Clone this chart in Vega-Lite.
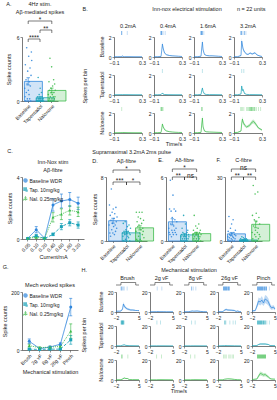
{
  "$schema": "https://vega.github.io/schema/vega-lite/v6.json",
  "padding": {"left": 2, "top": 2, "right": 1, "bottom": 1},
  "config": {
    "font": "Liberation Sans",
    "view": {"stroke": null},
    "axis": {"labelFontSize": 5, "titleFontSize": 5.5, "titleFontWeight": "normal", "tickSize": 2, "tickWidth": 0.5, "domainWidth": 0.6, "domainColor": "#222", "tickColor": "#222", "labelColor": "#222", "titleColor": "#222", "labelPadding": 1, "titlePadding": 2, "grid": false, "labelFlush": false, "labelOverlap": false},
    "header": {"labelFontSize": 5.5, "titleFontSize": 5.5, "titleFontWeight": "normal", "labelPadding": 1, "titlePadding": 1, "labelColor": "#222", "titleColor": "#222"},
    "title": {"fontSize": 5.5, "fontWeight": "normal", "color": "#222", "offset": 2},
    "legend": {"labelFontSize": 5, "symbolSize": 9, "rowPadding": 0, "padding": 0, "labelOffset": 1.5, "labelColor": "#222"}
  },
  "datasets": {
    "A": [
      {"g": "Baseline", "v": 1.2}, {"g": "Baseline", "v": 0.4}, {"g": "Baseline", "v": 3.4}, {"g": "Baseline", "v": 0}, {"g": "Baseline", "v": 2.0}, {"g": "Baseline", "v": 0.8}, {"g": "Baseline", "v": 5.0}, {"g": "Baseline", "v": 1.6}, {"g": "Baseline", "v": 0.2}, {"g": "Baseline", "v": 2.8}, {"g": "Baseline", "v": 0}, {"g": "Baseline", "v": 1.0}, {"g": "Baseline", "v": 4.2}, {"g": "Baseline", "v": 0.6}, {"g": "Baseline", "v": 1.8}, {"g": "Baseline", "v": 0.2}, {"g": "Baseline", "v": 3.1}, {"g": "Baseline", "v": 1.4}, {"g": "Baseline", "v": 0}, {"g": "Baseline", "v": 2.4}, {"g": "Baseline", "v": 4.6}, {"g": "Baseline", "v": 3.8},
      {"g": "Tapentadol", "v": 0}, {"g": "Tapentadol", "v": 0.2}, {"g": "Tapentadol", "v": 0}, {"g": "Tapentadol", "v": 0.4}, {"g": "Tapentadol", "v": 0}, {"g": "Tapentadol", "v": 2.2}, {"g": "Tapentadol", "v": 0.2}, {"g": "Tapentadol", "v": 0}, {"g": "Tapentadol", "v": 0.6}, {"g": "Tapentadol", "v": 0}, {"g": "Tapentadol", "v": 0.2}, {"g": "Tapentadol", "v": 1.2}, {"g": "Tapentadol", "v": 0}, {"g": "Tapentadol", "v": 0.2}, {"g": "Tapentadol", "v": 0}, {"g": "Tapentadol", "v": 0.8}, {"g": "Tapentadol", "v": 0}, {"g": "Tapentadol", "v": 0.4}, {"g": "Tapentadol", "v": 0.2}, {"g": "Tapentadol", "v": 0}, {"g": "Tapentadol", "v": 0.2}, {"g": "Tapentadol", "v": 0},
      {"g": "Naloxone", "v": 0.6}, {"g": "Naloxone", "v": 0}, {"g": "Naloxone", "v": 1.8}, {"g": "Naloxone", "v": 0.2}, {"g": "Naloxone", "v": 1.0}, {"g": "Naloxone", "v": 4.0}, {"g": "Naloxone", "v": 0.4}, {"g": "Naloxone", "v": 0}, {"g": "Naloxone", "v": 1.2}, {"g": "Naloxone", "v": 0.8}, {"g": "Naloxone", "v": 3.2}, {"g": "Naloxone", "v": 0.2}, {"g": "Naloxone", "v": 0.6}, {"g": "Naloxone", "v": 1.4}, {"g": "Naloxone", "v": 0}, {"g": "Naloxone", "v": 0.4}, {"g": "Naloxone", "v": 2.0}, {"g": "Naloxone", "v": 0.8}, {"g": "Naloxone", "v": 0.2}, {"g": "Naloxone", "v": 1.6}, {"g": "Naloxone", "v": 0.4}, {"g": "Naloxone", "v": 1.0}
    ],
    "D": [
      {"g": "Baseline", "v": 2.0}, {"g": "Baseline", "v": 4.5}, {"g": "Baseline", "v": 1.0}, {"g": "Baseline", "v": 3.2}, {"g": "Baseline", "v": 0.6}, {"g": "Baseline", "v": 2.6}, {"g": "Baseline", "v": 6.5}, {"g": "Baseline", "v": 1.4}, {"g": "Baseline", "v": 3.6}, {"g": "Baseline", "v": 2.2}, {"g": "Baseline", "v": 1.0}, {"g": "Baseline", "v": 4.0}, {"g": "Baseline", "v": 1.8}, {"g": "Baseline", "v": 2.8}, {"g": "Baseline", "v": 0.8}, {"g": "Baseline", "v": 3.4}, {"g": "Baseline", "v": 2.0}, {"g": "Baseline", "v": 1.2}, {"g": "Baseline", "v": 4.2}, {"g": "Baseline", "v": 2.4}, {"g": "Baseline", "v": 1.6}, {"g": "Baseline", "v": 3.0},
      {"g": "Tapentadol", "v": 1.0}, {"g": "Tapentadol", "v": 0.6}, {"g": "Tapentadol", "v": 2.2}, {"g": "Tapentadol", "v": 0}, {"g": "Tapentadol", "v": 1.2}, {"g": "Tapentadol", "v": 1.0}, {"g": "Tapentadol", "v": 0.8}, {"g": "Tapentadol", "v": 2.4}, {"g": "Tapentadol", "v": 0.2}, {"g": "Tapentadol", "v": 1.4}, {"g": "Tapentadol", "v": 1.2}, {"g": "Tapentadol", "v": 0}, {"g": "Tapentadol", "v": 1.0}, {"g": "Tapentadol", "v": 1.8}, {"g": "Tapentadol", "v": 0.6}, {"g": "Tapentadol", "v": 1.2}, {"g": "Tapentadol", "v": 0.4}, {"g": "Tapentadol", "v": 2.0}, {"g": "Tapentadol", "v": 1.0}, {"g": "Tapentadol", "v": 0}, {"g": "Tapentadol", "v": 0.8}, {"g": "Tapentadol", "v": 1.6},
      {"g": "Naloxone", "v": 1.2}, {"g": "Naloxone", "v": 3.6}, {"g": "Naloxone", "v": 0.2}, {"g": "Naloxone", "v": 2.4}, {"g": "Naloxone", "v": 0}, {"g": "Naloxone", "v": 1.8}, {"g": "Naloxone", "v": 3.0}, {"g": "Naloxone", "v": 0.6}, {"g": "Naloxone", "v": 2.0}, {"g": "Naloxone", "v": 3.6}, {"g": "Naloxone", "v": 1.0}, {"g": "Naloxone", "v": 0.2}, {"g": "Naloxone", "v": 2.8}, {"g": "Naloxone", "v": 1.4}, {"g": "Naloxone", "v": 0}, {"g": "Naloxone", "v": 2.2}, {"g": "Naloxone", "v": 3.6}, {"g": "Naloxone", "v": 0.8}, {"g": "Naloxone", "v": 1.6}, {"g": "Naloxone", "v": 1.2}, {"g": "Naloxone", "v": 2.6}, {"g": "Naloxone", "v": 0.4}
    ],
    "E": [
      {"g": "Baseline", "v": 1.2}, {"g": "Baseline", "v": 0.8}, {"g": "Baseline", "v": 3.0}, {"g": "Baseline", "v": 0.6}, {"g": "Baseline", "v": 5.7}, {"g": "Baseline", "v": 1.6}, {"g": "Baseline", "v": 2.8}, {"g": "Baseline", "v": 0.4}, {"g": "Baseline", "v": 1.0}, {"g": "Baseline", "v": 2.2}, {"g": "Baseline", "v": 0.8}, {"g": "Baseline", "v": 4.3}, {"g": "Baseline", "v": 0.6}, {"g": "Baseline", "v": 1.4}, {"g": "Baseline", "v": 3.0}, {"g": "Baseline", "v": 1.0}, {"g": "Baseline", "v": 2.0}, {"g": "Baseline", "v": 0.8}, {"g": "Baseline", "v": 2.8}, {"g": "Baseline", "v": 1.2}, {"g": "Baseline", "v": 0.6}, {"g": "Baseline", "v": 1.8},
      {"g": "Tapentadol", "v": 0.4}, {"g": "Tapentadol", "v": 0}, {"g": "Tapentadol", "v": 0.6}, {"g": "Tapentadol", "v": 1.2}, {"g": "Tapentadol", "v": 0.2}, {"g": "Tapentadol", "v": 0.8}, {"g": "Tapentadol", "v": 0}, {"g": "Tapentadol", "v": 2.4}, {"g": "Tapentadol", "v": 0.4}, {"g": "Tapentadol", "v": 0.6}, {"g": "Tapentadol", "v": 0.2}, {"g": "Tapentadol", "v": 0}, {"g": "Tapentadol", "v": 1.6}, {"g": "Tapentadol", "v": 0.4}, {"g": "Tapentadol", "v": 0.6}, {"g": "Tapentadol", "v": 0.2}, {"g": "Tapentadol", "v": 0.8}, {"g": "Tapentadol", "v": 0}, {"g": "Tapentadol", "v": 1.0}, {"g": "Tapentadol", "v": 0.2}, {"g": "Tapentadol", "v": 0.6}, {"g": "Tapentadol", "v": 0.4},
      {"g": "Naloxone", "v": 0.6}, {"g": "Naloxone", "v": 1.0}, {"g": "Naloxone", "v": 0.2}, {"g": "Naloxone", "v": 2.4}, {"g": "Naloxone", "v": 0.4}, {"g": "Naloxone", "v": 0.8}, {"g": "Naloxone", "v": 0}, {"g": "Naloxone", "v": 1.4}, {"g": "Naloxone", "v": 0.6}, {"g": "Naloxone", "v": 0.2}, {"g": "Naloxone", "v": 0.8}, {"g": "Naloxone", "v": 1.2}, {"g": "Naloxone", "v": 0}, {"g": "Naloxone", "v": 0.4}, {"g": "Naloxone", "v": 0.6}, {"g": "Naloxone", "v": 1.6}, {"g": "Naloxone", "v": 0.2}, {"g": "Naloxone", "v": 0.8}, {"g": "Naloxone", "v": 0.4}, {"g": "Naloxone", "v": 1.0}, {"g": "Naloxone", "v": 0}, {"g": "Naloxone", "v": 0.6}
    ],
    "F": [
      {"g": "Baseline", "v": 2.0}, {"g": "Baseline", "v": 4.5}, {"g": "Baseline", "v": 0.5}, {"g": "Baseline", "v": 11.5}, {"g": "Baseline", "v": 1.5}, {"g": "Baseline", "v": 3.0}, {"g": "Baseline", "v": 0}, {"g": "Baseline", "v": 6.0}, {"g": "Baseline", "v": 2.5}, {"g": "Baseline", "v": 1.0}, {"g": "Baseline", "v": 8.0}, {"g": "Baseline", "v": 3.5}, {"g": "Baseline", "v": 0.5}, {"g": "Baseline", "v": 2.0}, {"g": "Baseline", "v": 10.0}, {"g": "Baseline", "v": 1.5}, {"g": "Baseline", "v": 4.0}, {"g": "Baseline", "v": 0}, {"g": "Baseline", "v": 3.0}, {"g": "Baseline", "v": 1.0}, {"g": "Baseline", "v": 5.0}, {"g": "Baseline", "v": 2.5},
      {"g": "Tapentadol", "v": 0.5}, {"g": "Tapentadol", "v": 0}, {"g": "Tapentadol", "v": 1.0}, {"g": "Tapentadol", "v": 0}, {"g": "Tapentadol", "v": 0.5}, {"g": "Tapentadol", "v": 2.0}, {"g": "Tapentadol", "v": 0}, {"g": "Tapentadol", "v": 0.5}, {"g": "Tapentadol", "v": 0}, {"g": "Tapentadol", "v": 1.5}, {"g": "Tapentadol", "v": 0.5}, {"g": "Tapentadol", "v": 0}, {"g": "Tapentadol", "v": 1.0}, {"g": "Tapentadol", "v": 0.5}, {"g": "Tapentadol", "v": 0}, {"g": "Tapentadol", "v": 0.5}, {"g": "Tapentadol", "v": 0}, {"g": "Tapentadol", "v": 1.0}, {"g": "Tapentadol", "v": 0.5}, {"g": "Tapentadol", "v": 0}, {"g": "Tapentadol", "v": 0.5}, {"g": "Tapentadol", "v": 0},
      {"g": "Naloxone", "v": 4}, {"g": "Naloxone", "v": 12}, {"g": "Naloxone", "v": 1}, {"g": "Naloxone", "v": 26}, {"g": "Naloxone", "v": 7}, {"g": "Naloxone", "v": 0}, {"g": "Naloxone", "v": 10}, {"g": "Naloxone", "v": 3}, {"g": "Naloxone", "v": 22}, {"g": "Naloxone", "v": 5}, {"g": "Naloxone", "v": 2}, {"g": "Naloxone", "v": 13}, {"g": "Naloxone", "v": 9}, {"g": "Naloxone", "v": 0}, {"g": "Naloxone", "v": 4}, {"g": "Naloxone", "v": 23}, {"g": "Naloxone", "v": 6}, {"g": "Naloxone", "v": 1}, {"g": "Naloxone", "v": 11}, {"g": "Naloxone", "v": 3}, {"g": "Naloxone", "v": 8}, {"g": "Naloxone", "v": 2}
    ],
    "C": [
      {"g": "Baseline WDR", "x": "0.05", "m": 0.05, "s": 0.03}, {"g": "Baseline WDR", "x": "0.10", "m": 0.6, "s": 0.2}, {"g": "Baseline WDR", "x": "0.20", "m": 0.05, "s": 0.03}, {"g": "Baseline WDR", "x": "0.40", "m": 2.2, "s": 0.4}, {"g": "Baseline WDR", "x": "0.80", "m": 2.45, "s": 0.45}, {"g": "Baseline WDR", "x": "1.60", "m": 2.55, "s": 0.45}, {"g": "Baseline WDR", "x": "3.20", "m": 2.3, "s": 0.4},
      {"g": "Tap. 10mg/kg", "x": "0.05", "m": 0.03, "s": 0.02}, {"g": "Tap. 10mg/kg", "x": "0.10", "m": 0.2, "s": 0.08}, {"g": "Tap. 10mg/kg", "x": "0.20", "m": 0.03, "s": 0.02}, {"g": "Tap. 10mg/kg", "x": "0.40", "m": 0.3, "s": 0.08}, {"g": "Tap. 10mg/kg", "x": "0.80", "m": 0.8, "s": 0.2}, {"g": "Tap. 10mg/kg", "x": "1.60", "m": 1.05, "s": 0.2}, {"g": "Tap. 10mg/kg", "x": "3.20", "m": 0.9, "s": 0.2},
      {"g": "Nal. 0.25mg/kg", "x": "0.05", "m": 0.05, "s": 0.03}, {"g": "Nal. 0.25mg/kg", "x": "0.10", "m": 0.1, "s": 0.05}, {"g": "Nal. 0.25mg/kg", "x": "0.20", "m": 0.05, "s": 0.03}, {"g": "Nal. 0.25mg/kg", "x": "0.40", "m": 1.4, "s": 0.3}, {"g": "Nal. 0.25mg/kg", "x": "0.80", "m": 1.6, "s": 0.35}, {"g": "Nal. 0.25mg/kg", "x": "1.60", "m": 1.85, "s": 0.3}, {"g": "Nal. 0.25mg/kg", "x": "3.20", "m": 1.75, "s": 0.3}
    ],
    "G": [
      {"g": "Baseline WDR", "x": "Brush", "m": 30, "s": 8}, {"g": "Baseline WDR", "x": "2g vF", "m": 5, "s": 2}, {"g": "Baseline WDR", "x": "8g vF", "m": 10, "s": 3}, {"g": "Baseline WDR", "x": "26g vF", "m": 20, "s": 5}, {"g": "Baseline WDR", "x": "Pinch", "m": 148, "s": 30},
      {"g": "Tap. 10mg/kg", "x": "Brush", "m": 3, "s": 1.5}, {"g": "Tap. 10mg/kg", "x": "2g vF", "m": 2, "s": 1}, {"g": "Tap. 10mg/kg", "x": "8g vF", "m": 3, "s": 1}, {"g": "Tap. 10mg/kg", "x": "26g vF", "m": 3, "s": 1.5}, {"g": "Tap. 10mg/kg", "x": "Pinch", "m": 35, "s": 15},
      {"g": "Nal. 0.25mg/kg", "x": "Brush", "m": 15, "s": 5}, {"g": "Nal. 0.25mg/kg", "x": "2g vF", "m": 8, "s": 3}, {"g": "Nal. 0.25mg/kg", "x": "8g vF", "m": 10, "s": 3}, {"g": "Nal. 0.25mg/kg", "x": "26g vF", "m": 12, "s": 4}, {"g": "Nal. 0.25mg/kg", "x": "Pinch", "m": 65, "s": 25}
    ],
    "Bt": [
      {"r": "Baseline", "c": "0.2mA", "k": "p", "t": -0.1, "m": 0.02, "s": 0.02}, {"r": "Baseline", "c": "0.2mA", "k": "p", "t": -0.05, "m": 0.03, "s": 0.02}, {"r": "Baseline", "c": "0.2mA", "k": "p", "t": 0, "m": 0.03, "s": 0.02}, {"r": "Baseline", "c": "0.2mA", "k": "p", "t": 0.01, "m": 0.06, "s": 0.03}, {"r": "Baseline", "c": "0.2mA", "k": "p", "t": 0.02, "m": 0.1, "s": 0.04}, {"r": "Baseline", "c": "0.2mA", "k": "p", "t": 0.03, "m": 0.05, "s": 0.03}, {"r": "Baseline", "c": "0.2mA", "k": "p", "t": 0.05, "m": 0.03, "s": 0.02}, {"r": "Baseline", "c": "0.2mA", "k": "p", "t": 0.1, "m": 0.03, "s": 0.02}, {"r": "Baseline", "c": "0.2mA", "k": "p", "t": 0.2, "m": 0.02, "s": 0.02}, {"r": "Baseline", "c": "0.2mA", "k": "p", "t": 0.3, "m": 0.02, "s": 0.02},
      {"r": "Baseline", "c": "0.4mA", "k": "p", "t": -0.1, "m": 0.02, "s": 0.02}, {"r": "Baseline", "c": "0.4mA", "k": "p", "t": -0.05, "m": 0.03, "s": 0.02}, {"r": "Baseline", "c": "0.4mA", "k": "p", "t": 0, "m": 0.05, "s": 0.03}, {"r": "Baseline", "c": "0.4mA", "k": "p", "t": 0.01, "m": 0.6, "s": 0.12}, {"r": "Baseline", "c": "0.4mA", "k": "p", "t": 0.02, "m": 1.3, "s": 0.22}, {"r": "Baseline", "c": "0.4mA", "k": "p", "t": 0.03, "m": 0.9, "s": 0.16}, {"r": "Baseline", "c": "0.4mA", "k": "p", "t": 0.05, "m": 0.4, "s": 0.08}, {"r": "Baseline", "c": "0.4mA", "k": "p", "t": 0.08, "m": 0.22, "s": 0.05}, {"r": "Baseline", "c": "0.4mA", "k": "p", "t": 0.12, "m": 0.15, "s": 0.04}, {"r": "Baseline", "c": "0.4mA", "k": "p", "t": 0.16, "m": 0.12, "s": 0.04}, {"r": "Baseline", "c": "0.4mA", "k": "p", "t": 0.2, "m": 0.1, "s": 0.03}, {"r": "Baseline", "c": "0.4mA", "k": "p", "t": 0.25, "m": 0.08, "s": 0.03}, {"r": "Baseline", "c": "0.4mA", "k": "p", "t": 0.3, "m": 0.05, "s": 0.02},
      {"r": "Baseline", "c": "1.6mA", "k": "p", "t": -0.1, "m": 0.02, "s": 0.02}, {"r": "Baseline", "c": "1.6mA", "k": "p", "t": -0.05, "m": 0.03, "s": 0.02}, {"r": "Baseline", "c": "1.6mA", "k": "p", "t": 0, "m": 0.08, "s": 0.03}, {"r": "Baseline", "c": "1.6mA", "k": "p", "t": 0.01, "m": 0.8, "s": 0.15}, {"r": "Baseline", "c": "1.6mA", "k": "p", "t": 0.02, "m": 1.5, "s": 0.25}, {"r": "Baseline", "c": "1.6mA", "k": "p", "t": 0.03, "m": 0.7, "s": 0.13}, {"r": "Baseline", "c": "1.6mA", "k": "p", "t": 0.05, "m": 0.25, "s": 0.06}, {"r": "Baseline", "c": "1.6mA", "k": "p", "t": 0.08, "m": 0.15, "s": 0.04}, {"r": "Baseline", "c": "1.6mA", "k": "p", "t": 0.12, "m": 0.12, "s": 0.04}, {"r": "Baseline", "c": "1.6mA", "k": "p", "t": 0.16, "m": 0.12, "s": 0.04}, {"r": "Baseline", "c": "1.6mA", "k": "p", "t": 0.2, "m": 0.1, "s": 0.03}, {"r": "Baseline", "c": "1.6mA", "k": "p", "t": 0.25, "m": 0.08, "s": 0.03}, {"r": "Baseline", "c": "1.6mA", "k": "p", "t": 0.3, "m": 0.05, "s": 0.02},
      {"r": "Baseline", "c": "3.2mA", "k": "p", "t": -0.1, "m": 0.03, "s": 0.02}, {"r": "Baseline", "c": "3.2mA", "k": "p", "t": -0.05, "m": 0.03, "s": 0.02}, {"r": "Baseline", "c": "3.2mA", "k": "p", "t": 0, "m": 0.15, "s": 0.05}, {"r": "Baseline", "c": "3.2mA", "k": "p", "t": 0.01, "m": 1.6, "s": 0.3}, {"r": "Baseline", "c": "3.2mA", "k": "p", "t": 0.02, "m": 1.2, "s": 0.22}, {"r": "Baseline", "c": "3.2mA", "k": "p", "t": 0.03, "m": 0.8, "s": 0.15}, {"r": "Baseline", "c": "3.2mA", "k": "p", "t": 0.05, "m": 0.5, "s": 0.1}, {"r": "Baseline", "c": "3.2mA", "k": "p", "t": 0.08, "m": 0.3, "s": 0.07}, {"r": "Baseline", "c": "3.2mA", "k": "p", "t": 0.1, "m": 0.25, "s": 0.06}, {"r": "Baseline", "c": "3.2mA", "k": "p", "t": 0.13, "m": 0.4, "s": 0.08}, {"r": "Baseline", "c": "3.2mA", "k": "p", "t": 0.16, "m": 0.3, "s": 0.07}, {"r": "Baseline", "c": "3.2mA", "k": "p", "t": 0.2, "m": 0.42, "s": 0.08}, {"r": "Baseline", "c": "3.2mA", "k": "p", "t": 0.23, "m": 0.2, "s": 0.05}, {"r": "Baseline", "c": "3.2mA", "k": "p", "t": 0.27, "m": 0.1, "s": 0.04}, {"r": "Baseline", "c": "3.2mA", "k": "p", "t": 0.3, "m": 0.05, "s": 0.03},
      {"r": "Tapentadol", "c": "0.2mA", "k": "p", "t": -0.1, "m": 0.02, "s": 0.02}, {"r": "Tapentadol", "c": "0.2mA", "k": "p", "t": 0, "m": 0.03, "s": 0.02}, {"r": "Tapentadol", "c": "0.2mA", "k": "p", "t": 0.02, "m": 0.04, "s": 0.02}, {"r": "Tapentadol", "c": "0.2mA", "k": "p", "t": 0.1, "m": 0.03, "s": 0.02}, {"r": "Tapentadol", "c": "0.2mA", "k": "p", "t": 0.2, "m": 0.02, "s": 0.02}, {"r": "Tapentadol", "c": "0.2mA", "k": "p", "t": 0.3, "m": 0.02, "s": 0.02},
      {"r": "Tapentadol", "c": "0.4mA", "k": "p", "t": -0.1, "m": 0.02, "s": 0.02}, {"r": "Tapentadol", "c": "0.4mA", "k": "p", "t": -0.05, "m": 0.02, "s": 0.02}, {"r": "Tapentadol", "c": "0.4mA", "k": "p", "t": 0, "m": 0.04, "s": 0.02}, {"r": "Tapentadol", "c": "0.4mA", "k": "p", "t": 0.01, "m": 0.12, "s": 0.04}, {"r": "Tapentadol", "c": "0.4mA", "k": "p", "t": 0.02, "m": 0.2, "s": 0.05}, {"r": "Tapentadol", "c": "0.4mA", "k": "p", "t": 0.03, "m": 0.1, "s": 0.04}, {"r": "Tapentadol", "c": "0.4mA", "k": "p", "t": 0.05, "m": 0.05, "s": 0.02}, {"r": "Tapentadol", "c": "0.4mA", "k": "p", "t": 0.1, "m": 0.03, "s": 0.02}, {"r": "Tapentadol", "c": "0.4mA", "k": "p", "t": 0.2, "m": 0.02, "s": 0.02}, {"r": "Tapentadol", "c": "0.4mA", "k": "p", "t": 0.3, "m": 0.02, "s": 0.02},
      {"r": "Tapentadol", "c": "1.6mA", "k": "p", "t": -0.1, "m": 0.02, "s": 0.02}, {"r": "Tapentadol", "c": "1.6mA", "k": "p", "t": -0.05, "m": 0.02, "s": 0.02}, {"r": "Tapentadol", "c": "1.6mA", "k": "p", "t": 0, "m": 0.05, "s": 0.02}, {"r": "Tapentadol", "c": "1.6mA", "k": "p", "t": 0.01, "m": 0.4, "s": 0.08}, {"r": "Tapentadol", "c": "1.6mA", "k": "p", "t": 0.02, "m": 0.7, "s": 0.12}, {"r": "Tapentadol", "c": "1.6mA", "k": "p", "t": 0.03, "m": 0.35, "s": 0.07}, {"r": "Tapentadol", "c": "1.6mA", "k": "p", "t": 0.05, "m": 0.1, "s": 0.03}, {"r": "Tapentadol", "c": "1.6mA", "k": "p", "t": 0.08, "m": 0.05, "s": 0.02}, {"r": "Tapentadol", "c": "1.6mA", "k": "p", "t": 0.12, "m": 0.04, "s": 0.02}, {"r": "Tapentadol", "c": "1.6mA", "k": "p", "t": 0.2, "m": 0.03, "s": 0.02}, {"r": "Tapentadol", "c": "1.6mA", "k": "p", "t": 0.3, "m": 0.02, "s": 0.02},
      {"r": "Tapentadol", "c": "3.2mA", "k": "p", "t": -0.1, "m": 0.02, "s": 0.02}, {"r": "Tapentadol", "c": "3.2mA", "k": "p", "t": -0.05, "m": 0.02, "s": 0.02}, {"r": "Tapentadol", "c": "3.2mA", "k": "p", "t": 0, "m": 0.1, "s": 0.03}, {"r": "Tapentadol", "c": "3.2mA", "k": "p", "t": 0.01, "m": 0.9, "s": 0.15}, {"r": "Tapentadol", "c": "3.2mA", "k": "p", "t": 0.02, "m": 0.45, "s": 0.09}, {"r": "Tapentadol", "c": "3.2mA", "k": "p", "t": 0.03, "m": 0.55, "s": 0.1}, {"r": "Tapentadol", "c": "3.2mA", "k": "p", "t": 0.05, "m": 0.15, "s": 0.04}, {"r": "Tapentadol", "c": "3.2mA", "k": "p", "t": 0.08, "m": 0.06, "s": 0.02}, {"r": "Tapentadol", "c": "3.2mA", "k": "p", "t": 0.12, "m": 0.04, "s": 0.02}, {"r": "Tapentadol", "c": "3.2mA", "k": "p", "t": 0.2, "m": 0.03, "s": 0.02}, {"r": "Tapentadol", "c": "3.2mA", "k": "p", "t": 0.3, "m": 0.02, "s": 0.02},
      {"r": "Naloxone", "c": "0.2mA", "k": "p", "t": -0.1, "m": 0.02, "s": 0.02}, {"r": "Naloxone", "c": "0.2mA", "k": "p", "t": 0, "m": 0.03, "s": 0.02}, {"r": "Naloxone", "c": "0.2mA", "k": "p", "t": 0.02, "m": 0.05, "s": 0.02}, {"r": "Naloxone", "c": "0.2mA", "k": "p", "t": 0.1, "m": 0.03, "s": 0.02}, {"r": "Naloxone", "c": "0.2mA", "k": "p", "t": 0.2, "m": 0.02, "s": 0.02}, {"r": "Naloxone", "c": "0.2mA", "k": "p", "t": 0.3, "m": 0.02, "s": 0.02},
      {"r": "Naloxone", "c": "0.4mA", "k": "p", "t": -0.1, "m": 0.02, "s": 0.02}, {"r": "Naloxone", "c": "0.4mA", "k": "p", "t": -0.05, "m": 0.03, "s": 0.02}, {"r": "Naloxone", "c": "0.4mA", "k": "p", "t": 0, "m": 0.05, "s": 0.03}, {"r": "Naloxone", "c": "0.4mA", "k": "p", "t": 0.01, "m": 0.4, "s": 0.08}, {"r": "Naloxone", "c": "0.4mA", "k": "p", "t": 0.02, "m": 0.9, "s": 0.16}, {"r": "Naloxone", "c": "0.4mA", "k": "p", "t": 0.03, "m": 0.65, "s": 0.12}, {"r": "Naloxone", "c": "0.4mA", "k": "p", "t": 0.05, "m": 0.35, "s": 0.07}, {"r": "Naloxone", "c": "0.4mA", "k": "p", "t": 0.08, "m": 0.2, "s": 0.05}, {"r": "Naloxone", "c": "0.4mA", "k": "p", "t": 0.12, "m": 0.13, "s": 0.04}, {"r": "Naloxone", "c": "0.4mA", "k": "p", "t": 0.16, "m": 0.1, "s": 0.03}, {"r": "Naloxone", "c": "0.4mA", "k": "p", "t": 0.2, "m": 0.08, "s": 0.03}, {"r": "Naloxone", "c": "0.4mA", "k": "p", "t": 0.25, "m": 0.06, "s": 0.02}, {"r": "Naloxone", "c": "0.4mA", "k": "p", "t": 0.3, "m": 0.05, "s": 0.02},
      {"r": "Naloxone", "c": "1.6mA", "k": "p", "t": -0.1, "m": 0.02, "s": 0.02}, {"r": "Naloxone", "c": "1.6mA", "k": "p", "t": -0.05, "m": 0.03, "s": 0.02}, {"r": "Naloxone", "c": "1.6mA", "k": "p", "t": 0, "m": 0.06, "s": 0.03}, {"r": "Naloxone", "c": "1.6mA", "k": "p", "t": 0.01, "m": 0.8, "s": 0.15}, {"r": "Naloxone", "c": "1.6mA", "k": "p", "t": 0.02, "m": 1.5, "s": 0.25}, {"r": "Naloxone", "c": "1.6mA", "k": "p", "t": 0.03, "m": 0.6, "s": 0.12}, {"r": "Naloxone", "c": "1.6mA", "k": "p", "t": 0.05, "m": 0.2, "s": 0.05}, {"r": "Naloxone", "c": "1.6mA", "k": "p", "t": 0.08, "m": 0.12, "s": 0.04}, {"r": "Naloxone", "c": "1.6mA", "k": "p", "t": 0.12, "m": 0.1, "s": 0.03}, {"r": "Naloxone", "c": "1.6mA", "k": "p", "t": 0.2, "m": 0.08, "s": 0.03}, {"r": "Naloxone", "c": "1.6mA", "k": "p", "t": 0.3, "m": 0.05, "s": 0.02},
      {"r": "Naloxone", "c": "3.2mA", "k": "p", "t": -0.1, "m": 0.05, "s": 0.03}, {"r": "Naloxone", "c": "3.2mA", "k": "p", "t": -0.05, "m": 0.06, "s": 0.03}, {"r": "Naloxone", "c": "3.2mA", "k": "p", "t": 0, "m": 0.2, "s": 0.06}, {"r": "Naloxone", "c": "3.2mA", "k": "p", "t": 0.01, "m": 0.9, "s": 0.17}, {"r": "Naloxone", "c": "3.2mA", "k": "p", "t": 0.02, "m": 1.4, "s": 0.25}, {"r": "Naloxone", "c": "3.2mA", "k": "p", "t": 0.03, "m": 1.1, "s": 0.2}, {"r": "Naloxone", "c": "3.2mA", "k": "p", "t": 0.05, "m": 0.8, "s": 0.15}, {"r": "Naloxone", "c": "3.2mA", "k": "p", "t": 0.08, "m": 0.6, "s": 0.12}, {"r": "Naloxone", "c": "3.2mA", "k": "p", "t": 0.12, "m": 0.75, "s": 0.14}, {"r": "Naloxone", "c": "3.2mA", "k": "p", "t": 0.16, "m": 1.1, "s": 0.2}, {"r": "Naloxone", "c": "3.2mA", "k": "p", "t": 0.18, "m": 1.15, "s": 0.2}, {"r": "Naloxone", "c": "3.2mA", "k": "p", "t": 0.2, "m": 1.0, "s": 0.18}, {"r": "Naloxone", "c": "3.2mA", "k": "p", "t": 0.25, "m": 0.5, "s": 0.1}, {"r": "Naloxone", "c": "3.2mA", "k": "p", "t": 0.3, "m": 0.3, "s": 0.07},
      {"r": "Baseline", "c": "0.2mA", "k": "s", "t": 0.01, "n": 3}, {"r": "Baseline", "c": "0.2mA", "k": "s", "t": 0.09, "n": 1},
      {"r": "Baseline", "c": "0.4mA", "k": "s", "t": 0, "n": 3}, {"r": "Baseline", "c": "0.4mA", "k": "s", "t": 0.01, "n": 3}, {"r": "Baseline", "c": "0.4mA", "k": "s", "t": 0.03, "n": 1}, {"r": "Baseline", "c": "0.4mA", "k": "s", "t": 0.06, "n": 1},
      {"r": "Baseline", "c": "1.6mA", "k": "s", "t": 0, "n": 3}, {"r": "Baseline", "c": "1.6mA", "k": "s", "t": 0.01, "n": 3}, {"r": "Baseline", "c": "1.6mA", "k": "s", "t": 0.02, "n": 2}, {"r": "Baseline", "c": "1.6mA", "k": "s", "t": 0.04, "n": 1},
      {"r": "Baseline", "c": "3.2mA", "k": "s", "t": 0, "n": 3}, {"r": "Baseline", "c": "3.2mA", "k": "s", "t": 0.01, "n": 2}, {"r": "Baseline", "c": "3.2mA", "k": "s", "t": 0.03, "n": 1}, {"r": "Baseline", "c": "3.2mA", "k": "s", "t": 0.05, "n": 2}, {"r": "Baseline", "c": "3.2mA", "k": "s", "t": 0.07, "n": 1},
      {"r": "Tapentadol", "c": "0.4mA", "k": "s", "t": 0.02, "n": 1}, {"r": "Tapentadol", "c": "1.6mA", "k": "s", "t": 0.02, "n": 1}, {"r": "Tapentadol", "c": "3.2mA", "k": "s", "t": 0.01, "n": 1}, {"r": "Tapentadol", "c": "3.2mA", "k": "s", "t": 0.04, "n": 1},
      {"r": "Naloxone", "c": "0.2mA", "k": "s", "t": 0.01, "n": 1},
      {"r": "Naloxone", "c": "0.4mA", "k": "s", "t": 0, "n": 2}, {"r": "Naloxone", "c": "0.4mA", "k": "s", "t": 0.01, "n": 2}, {"r": "Naloxone", "c": "0.4mA", "k": "s", "t": 0.02, "n": 1}, {"r": "Naloxone", "c": "0.4mA", "k": "s", "t": 0.03, "n": 1},
      {"r": "Naloxone", "c": "1.6mA", "k": "s", "t": 0.01, "n": 2}, {"r": "Naloxone", "c": "1.6mA", "k": "s", "t": 0.02, "n": 1},
      {"r": "Naloxone", "c": "3.2mA", "k": "s", "t": 0, "n": 2}, {"r": "Naloxone", "c": "3.2mA", "k": "s", "t": 0.02, "n": 1}, {"r": "Naloxone", "c": "3.2mA", "k": "s", "t": 0.04, "n": 1}, {"r": "Naloxone", "c": "3.2mA", "k": "s", "t": 0.08, "n": 1}, {"r": "Naloxone", "c": "3.2mA", "k": "s", "t": 0.1, "n": 2}, {"r": "Naloxone", "c": "3.2mA", "k": "s", "t": 0.12, "n": 2}, {"r": "Naloxone", "c": "3.2mA", "k": "s", "t": 0.14, "n": 3}, {"r": "Naloxone", "c": "3.2mA", "k": "s", "t": 0.15, "n": 2}, {"r": "Naloxone", "c": "3.2mA", "k": "s", "t": 0.17, "n": 3}, {"r": "Naloxone", "c": "3.2mA", "k": "s", "t": 0.19, "n": 2}, {"r": "Naloxone", "c": "3.2mA", "k": "s", "t": 0.2, "n": 1}, {"r": "Naloxone", "c": "3.2mA", "k": "s", "t": 0.22, "n": 1}, {"r": "Naloxone", "c": "3.2mA", "k": "s", "t": 0.25, "n": 1}, {"r": "Naloxone", "c": "3.2mA", "k": "s", "t": 0.28, "n": 1}
    ],
    "Ht": [
      {"r": "Baseline", "c": "Brush", "k": "p", "t": -2, "m": 0.8, "s": 0.4}, {"r": "Baseline", "c": "Brush", "k": "p", "t": -1, "m": 0.8, "s": 0.4}, {"r": "Baseline", "c": "Brush", "k": "p", "t": -0.5, "m": 1.0, "s": 0.5}, {"r": "Baseline", "c": "Brush", "k": "p", "t": 0, "m": 3, "s": 1}, {"r": "Baseline", "c": "Brush", "k": "p", "t": 0.25, "m": 8, "s": 2}, {"r": "Baseline", "c": "Brush", "k": "p", "t": 0.5, "m": 6, "s": 1.8}, {"r": "Baseline", "c": "Brush", "k": "p", "t": 1, "m": 4, "s": 1.3}, {"r": "Baseline", "c": "Brush", "k": "p", "t": 1.5, "m": 3, "s": 1}, {"r": "Baseline", "c": "Brush", "k": "p", "t": 2, "m": 2.5, "s": 0.9}, {"r": "Baseline", "c": "Brush", "k": "p", "t": 2.5, "m": 2, "s": 0.8}, {"r": "Baseline", "c": "Brush", "k": "p", "t": 3, "m": 2, "s": 0.8}, {"r": "Baseline", "c": "Brush", "k": "p", "t": 3.5, "m": 1.8, "s": 0.7}, {"r": "Baseline", "c": "Brush", "k": "p", "t": 4, "m": 1.5, "s": 0.6}, {"r": "Baseline", "c": "Brush", "k": "p", "t": 4.5, "m": 1.5, "s": 0.6}, {"r": "Baseline", "c": "Brush", "k": "p", "t": 5, "m": 1.4, "s": 0.6},
      {"r": "Baseline", "c": "2g vF", "k": "p", "t": -2, "m": 0.2, "s": 0.2}, {"r": "Baseline", "c": "2g vF", "k": "p", "t": 0, "m": 0.3, "s": 0.2}, {"r": "Baseline", "c": "2g vF", "k": "p", "t": 0.5, "m": 0.5, "s": 0.3}, {"r": "Baseline", "c": "2g vF", "k": "p", "t": 1, "m": 0.3, "s": 0.2}, {"r": "Baseline", "c": "2g vF", "k": "p", "t": 2, "m": 0.3, "s": 0.2}, {"r": "Baseline", "c": "2g vF", "k": "p", "t": 3, "m": 0.2, "s": 0.2}, {"r": "Baseline", "c": "2g vF", "k": "p", "t": 5, "m": 0.2, "s": 0.2},
      {"r": "Baseline", "c": "8g vF", "k": "p", "t": -2, "m": 0.2, "s": 0.2}, {"r": "Baseline", "c": "8g vF", "k": "p", "t": -0.5, "m": 0.3, "s": 0.2}, {"r": "Baseline", "c": "8g vF", "k": "p", "t": 0, "m": 0.7, "s": 0.4}, {"r": "Baseline", "c": "8g vF", "k": "p", "t": 0.5, "m": 1.0, "s": 0.5}, {"r": "Baseline", "c": "8g vF", "k": "p", "t": 1, "m": 0.8, "s": 0.4}, {"r": "Baseline", "c": "8g vF", "k": "p", "t": 2, "m": 1.0, "s": 0.5}, {"r": "Baseline", "c": "8g vF", "k": "p", "t": 3, "m": 0.6, "s": 0.3}, {"r": "Baseline", "c": "8g vF", "k": "p", "t": 4, "m": 0.3, "s": 0.2}, {"r": "Baseline", "c": "8g vF", "k": "p", "t": 5, "m": 0.2, "s": 0.2},
      {"r": "Baseline", "c": "26g vF", "k": "p", "t": -2, "m": 0.3, "s": 0.2}, {"r": "Baseline", "c": "26g vF", "k": "p", "t": -0.5, "m": 0.3, "s": 0.2}, {"r": "Baseline", "c": "26g vF", "k": "p", "t": 0, "m": 2, "s": 0.8}, {"r": "Baseline", "c": "26g vF", "k": "p", "t": 0.5, "m": 2.5, "s": 1}, {"r": "Baseline", "c": "26g vF", "k": "p", "t": 1, "m": 2, "s": 0.8}, {"r": "Baseline", "c": "26g vF", "k": "p", "t": 2, "m": 1.8, "s": 0.8}, {"r": "Baseline", "c": "26g vF", "k": "p", "t": 3, "m": 1.5, "s": 0.7}, {"r": "Baseline", "c": "26g vF", "k": "p", "t": 3.5, "m": 0.6, "s": 0.4}, {"r": "Baseline", "c": "26g vF", "k": "p", "t": 4, "m": 1.0, "s": 0.5}, {"r": "Baseline", "c": "26g vF", "k": "p", "t": 4.5, "m": 0.4, "s": 0.3}, {"r": "Baseline", "c": "26g vF", "k": "p", "t": 5, "m": 0.3, "s": 0.2},
      {"r": "Baseline", "c": "Pinch", "k": "p", "t": -2, "m": 1, "s": 0.6}, {"r": "Baseline", "c": "Pinch", "k": "p", "t": -1, "m": 1.5, "s": 0.8}, {"r": "Baseline", "c": "Pinch", "k": "p", "t": -0.5, "m": 6, "s": 2}, {"r": "Baseline", "c": "Pinch", "k": "p", "t": 0, "m": 11, "s": 3.5}, {"r": "Baseline", "c": "Pinch", "k": "p", "t": 0.5, "m": 10, "s": 3.5}, {"r": "Baseline", "c": "Pinch", "k": "p", "t": 1, "m": 12, "s": 4}, {"r": "Baseline", "c": "Pinch", "k": "p", "t": 1.5, "m": 9, "s": 3}, {"r": "Baseline", "c": "Pinch", "k": "p", "t": 2, "m": 13, "s": 4}, {"r": "Baseline", "c": "Pinch", "k": "p", "t": 2.5, "m": 12, "s": 4}, {"r": "Baseline", "c": "Pinch", "k": "p", "t": 3, "m": 10, "s": 3.5}, {"r": "Baseline", "c": "Pinch", "k": "p", "t": 3.5, "m": 6, "s": 2.5}, {"r": "Baseline", "c": "Pinch", "k": "p", "t": 4, "m": 4, "s": 2}, {"r": "Baseline", "c": "Pinch", "k": "p", "t": 4.5, "m": 5, "s": 2}, {"r": "Baseline", "c": "Pinch", "k": "p", "t": 5, "m": 3, "s": 1.5},
      {"r": "Tapentadol", "c": "Brush", "k": "p", "t": -2, "m": 0.2, "s": 0.1}, {"r": "Tapentadol", "c": "Brush", "k": "p", "t": -0.5, "m": 0.2, "s": 0.1}, {"r": "Tapentadol", "c": "Brush", "k": "p", "t": 0, "m": 0.8, "s": 0.3}, {"r": "Tapentadol", "c": "Brush", "k": "p", "t": 0.5, "m": 1.2, "s": 0.4}, {"r": "Tapentadol", "c": "Brush", "k": "p", "t": 1, "m": 0.6, "s": 0.3}, {"r": "Tapentadol", "c": "Brush", "k": "p", "t": 2, "m": 0.3, "s": 0.2}, {"r": "Tapentadol", "c": "Brush", "k": "p", "t": 5, "m": 0.2, "s": 0.1},
      {"r": "Tapentadol", "c": "2g vF", "k": "p", "t": -2, "m": 0.1, "s": 0.1}, {"r": "Tapentadol", "c": "2g vF", "k": "p", "t": 0, "m": 0.15, "s": 0.1}, {"r": "Tapentadol", "c": "2g vF", "k": "p", "t": 1, "m": 0.2, "s": 0.1}, {"r": "Tapentadol", "c": "2g vF", "k": "p", "t": 5, "m": 0.1, "s": 0.1},
      {"r": "Tapentadol", "c": "8g vF", "k": "p", "t": -2, "m": 0.1, "s": 0.1}, {"r": "Tapentadol", "c": "8g vF", "k": "p", "t": 0, "m": 0.15, "s": 0.1}, {"r": "Tapentadol", "c": "8g vF", "k": "p", "t": 1, "m": 0.2, "s": 0.1}, {"r": "Tapentadol", "c": "8g vF", "k": "p", "t": 5, "m": 0.1, "s": 0.1},
      {"r": "Tapentadol", "c": "26g vF", "k": "p", "t": -2, "m": 0.1, "s": 0.1}, {"r": "Tapentadol", "c": "26g vF", "k": "p", "t": 0, "m": 0.3, "s": 0.2}, {"r": "Tapentadol", "c": "26g vF", "k": "p", "t": 0.5, "m": 0.5, "s": 0.2}, {"r": "Tapentadol", "c": "26g vF", "k": "p", "t": 1, "m": 0.3, "s": 0.2}, {"r": "Tapentadol", "c": "26g vF", "k": "p", "t": 3, "m": 0.2, "s": 0.1}, {"r": "Tapentadol", "c": "26g vF", "k": "p", "t": 5, "m": 0.1, "s": 0.1},
      {"r": "Tapentadol", "c": "Pinch", "k": "p", "t": -2, "m": 0.2, "s": 0.2}, {"r": "Tapentadol", "c": "Pinch", "k": "p", "t": -0.5, "m": 0.5, "s": 0.3}, {"r": "Tapentadol", "c": "Pinch", "k": "p", "t": 0, "m": 1.5, "s": 0.6}, {"r": "Tapentadol", "c": "Pinch", "k": "p", "t": 0.5, "m": 2, "s": 0.7}, {"r": "Tapentadol", "c": "Pinch", "k": "p", "t": 1, "m": 2, "s": 0.7}, {"r": "Tapentadol", "c": "Pinch", "k": "p", "t": 2, "m": 2, "s": 0.7}, {"r": "Tapentadol", "c": "Pinch", "k": "p", "t": 3, "m": 1.5, "s": 0.6}, {"r": "Tapentadol", "c": "Pinch", "k": "p", "t": 3.5, "m": 0.5, "s": 0.3}, {"r": "Tapentadol", "c": "Pinch", "k": "p", "t": 5, "m": 0.3, "s": 0.2},
      {"r": "Naloxone", "c": "Brush", "k": "p", "t": -2, "m": 0.2, "s": 0.1}, {"r": "Naloxone", "c": "Brush", "k": "p", "t": -0.5, "m": 0.3, "s": 0.2}, {"r": "Naloxone", "c": "Brush", "k": "p", "t": 0, "m": 1, "s": 0.4}, {"r": "Naloxone", "c": "Brush", "k": "p", "t": 0.5, "m": 2, "s": 0.6}, {"r": "Naloxone", "c": "Brush", "k": "p", "t": 1, "m": 1.5, "s": 0.5}, {"r": "Naloxone", "c": "Brush", "k": "p", "t": 1.5, "m": 1.5, "s": 0.5}, {"r": "Naloxone", "c": "Brush", "k": "p", "t": 2, "m": 0.5, "s": 0.3}, {"r": "Naloxone", "c": "Brush", "k": "p", "t": 3, "m": 0.4, "s": 0.2}, {"r": "Naloxone", "c": "Brush", "k": "p", "t": 5, "m": 0.3, "s": 0.2},
      {"r": "Naloxone", "c": "2g vF", "k": "p", "t": -2, "m": 0.2, "s": 0.1}, {"r": "Naloxone", "c": "2g vF", "k": "p", "t": 0, "m": 0.2, "s": 0.1}, {"r": "Naloxone", "c": "2g vF", "k": "p", "t": 1, "m": 0.3, "s": 0.2}, {"r": "Naloxone", "c": "2g vF", "k": "p", "t": 5, "m": 0.2, "s": 0.1},
      {"r": "Naloxone", "c": "8g vF", "k": "p", "t": -2, "m": 0.2, "s": 0.1}, {"r": "Naloxone", "c": "8g vF", "k": "p", "t": 0, "m": 0.2, "s": 0.1}, {"r": "Naloxone", "c": "8g vF", "k": "p", "t": 1, "m": 0.3, "s": 0.2}, {"r": "Naloxone", "c": "8g vF", "k": "p", "t": 5, "m": 0.2, "s": 0.1},
      {"r": "Naloxone", "c": "26g vF", "k": "p", "t": -2, "m": 0.2, "s": 0.1}, {"r": "Naloxone", "c": "26g vF", "k": "p", "t": -0.5, "m": 0.2, "s": 0.1}, {"r": "Naloxone", "c": "26g vF", "k": "p", "t": 0, "m": 0.8, "s": 0.3}, {"r": "Naloxone", "c": "26g vF", "k": "p", "t": 1, "m": 1.2, "s": 0.4}, {"r": "Naloxone", "c": "26g vF", "k": "p", "t": 2, "m": 1, "s": 0.4}, {"r": "Naloxone", "c": "26g vF", "k": "p", "t": 3, "m": 0.6, "s": 0.3}, {"r": "Naloxone", "c": "26g vF", "k": "p", "t": 4, "m": 0.3, "s": 0.2}, {"r": "Naloxone", "c": "26g vF", "k": "p", "t": 5, "m": 0.2, "s": 0.1},
      {"r": "Naloxone", "c": "Pinch", "k": "p", "t": -2, "m": 0.5, "s": 0.3}, {"r": "Naloxone", "c": "Pinch", "k": "p", "t": -0.5, "m": 1, "s": 0.5}, {"r": "Naloxone", "c": "Pinch", "k": "p", "t": 0, "m": 4, "s": 1.5}, {"r": "Naloxone", "c": "Pinch", "k": "p", "t": 0.5, "m": 6.5, "s": 2}, {"r": "Naloxone", "c": "Pinch", "k": "p", "t": 1, "m": 6, "s": 2}, {"r": "Naloxone", "c": "Pinch", "k": "p", "t": 1.5, "m": 5, "s": 1.8}, {"r": "Naloxone", "c": "Pinch", "k": "p", "t": 2, "m": 5.5, "s": 1.8}, {"r": "Naloxone", "c": "Pinch", "k": "p", "t": 3, "m": 3, "s": 1.2}, {"r": "Naloxone", "c": "Pinch", "k": "p", "t": 3.5, "m": 1.5, "s": 0.8}, {"r": "Naloxone", "c": "Pinch", "k": "p", "t": 4, "m": 1, "s": 0.5}, {"r": "Naloxone", "c": "Pinch", "k": "p", "t": 5, "m": 0.8, "s": 0.4},
      {"r": "Baseline", "c": "Brush", "k": "s", "t": -0.4, "n": 3}, {"r": "Baseline", "c": "Brush", "k": "s", "t": 0.1, "n": 2}, {"r": "Baseline", "c": "Brush", "k": "s", "t": 0.5, "n": 1}, {"r": "Baseline", "c": "Brush", "k": "s", "t": 1.4, "n": 1},
      {"r": "Baseline", "c": "2g vF", "k": "s", "t": 0.2, "n": 1}, {"r": "Baseline", "c": "2g vF", "k": "s", "t": 1.6, "n": 1},
      {"r": "Baseline", "c": "8g vF", "k": "s", "t": 0.3, "n": 2}, {"r": "Baseline", "c": "8g vF", "k": "s", "t": 0.8, "n": 1}, {"r": "Baseline", "c": "8g vF", "k": "s", "t": 1.6, "n": 1},
      {"r": "Baseline", "c": "26g vF", "k": "s", "t": -0.3, "n": 3}, {"r": "Baseline", "c": "26g vF", "k": "s", "t": 0, "n": 3}, {"r": "Baseline", "c": "26g vF", "k": "s", "t": 0.3, "n": 3}, {"r": "Baseline", "c": "26g vF", "k": "s", "t": 0.6, "n": 3}, {"r": "Baseline", "c": "26g vF", "k": "s", "t": 0.9, "n": 2}, {"r": "Baseline", "c": "26g vF", "k": "s", "t": 1.2, "n": 3}, {"r": "Baseline", "c": "26g vF", "k": "s", "t": 1.5, "n": 2},
      {"r": "Baseline", "c": "Pinch", "k": "s", "t": -0.3, "n": 3}, {"r": "Baseline", "c": "Pinch", "k": "s", "t": 0, "n": 3}, {"r": "Baseline", "c": "Pinch", "k": "s", "t": 0.3, "n": 3}, {"r": "Baseline", "c": "Pinch", "k": "s", "t": 0.6, "n": 3}, {"r": "Baseline", "c": "Pinch", "k": "s", "t": 0.9, "n": 3}, {"r": "Baseline", "c": "Pinch", "k": "s", "t": 1.2, "n": 3}, {"r": "Baseline", "c": "Pinch", "k": "s", "t": 1.5, "n": 2}, {"r": "Baseline", "c": "Pinch", "k": "s", "t": 1.8, "n": 3}, {"r": "Baseline", "c": "Pinch", "k": "s", "t": 2.1, "n": 2}, {"r": "Baseline", "c": "Pinch", "k": "s", "t": 2.4, "n": 3}, {"r": "Baseline", "c": "Pinch", "k": "s", "t": 3.3, "n": 1},
      {"r": "Tapentadol", "c": "Brush", "k": "s", "t": -0.4, "n": 3}, {"r": "Tapentadol", "c": "Brush", "k": "s", "t": -0.2, "n": 3}, {"r": "Tapentadol", "c": "Brush", "k": "s", "t": 0, "n": 3}, {"r": "Tapentadol", "c": "Brush", "k": "s", "t": 0.2, "n": 3}, {"r": "Tapentadol", "c": "Brush", "k": "s", "t": 0.4, "n": 2},
      {"r": "Tapentadol", "c": "2g vF", "k": "s", "t": 0.1, "n": 1}, {"r": "Tapentadol", "c": "2g vF", "k": "s", "t": 1.2, "n": 1},
      {"r": "Tapentadol", "c": "8g vF", "k": "s", "t": 0.3, "n": 1}, {"r": "Tapentadol", "c": "8g vF", "k": "s", "t": 1.4, "n": 1},
      {"r": "Tapentadol", "c": "26g vF", "k": "s", "t": 0.1, "n": 3}, {"r": "Tapentadol", "c": "26g vF", "k": "s", "t": 0.4, "n": 1}, {"r": "Tapentadol", "c": "26g vF", "k": "s", "t": 1.6, "n": 1}, {"r": "Tapentadol", "c": "26g vF", "k": "s", "t": 2.6, "n": 1}, {"r": "Tapentadol", "c": "26g vF", "k": "s", "t": 3.3, "n": 1},
      {"r": "Tapentadol", "c": "Pinch", "k": "s", "t": -0.3, "n": 3}, {"r": "Tapentadol", "c": "Pinch", "k": "s", "t": 0, "n": 3}, {"r": "Tapentadol", "c": "Pinch", "k": "s", "t": 0.3, "n": 3}, {"r": "Tapentadol", "c": "Pinch", "k": "s", "t": 0.6, "n": 3}, {"r": "Tapentadol", "c": "Pinch", "k": "s", "t": 0.9, "n": 3}, {"r": "Tapentadol", "c": "Pinch", "k": "s", "t": 1.2, "n": 2}, {"r": "Tapentadol", "c": "Pinch", "k": "s", "t": 1.5, "n": 3}, {"r": "Tapentadol", "c": "Pinch", "k": "s", "t": 1.8, "n": 2}, {"r": "Tapentadol", "c": "Pinch", "k": "s", "t": 2.1, "n": 2}, {"r": "Tapentadol", "c": "Pinch", "k": "s", "t": 2.5, "n": 1}, {"r": "Tapentadol", "c": "Pinch", "k": "s", "t": 3.3, "n": 1},
      {"r": "Naloxone", "c": "Brush", "k": "s", "t": -0.2, "n": 3}, {"r": "Naloxone", "c": "Brush", "k": "s", "t": 1.6, "n": 1},
      {"r": "Naloxone", "c": "2g vF", "k": "s", "t": 0, "n": 1}, {"r": "Naloxone", "c": "2g vF", "k": "s", "t": 1.5, "n": 1},
      {"r": "Naloxone", "c": "8g vF", "k": "s", "t": 0, "n": 1}, {"r": "Naloxone", "c": "8g vF", "k": "s", "t": 1.3, "n": 1},
      {"r": "Naloxone", "c": "26g vF", "k": "s", "t": -0.3, "n": 1}, {"r": "Naloxone", "c": "26g vF", "k": "s", "t": 0.1, "n": 1}, {"r": "Naloxone", "c": "26g vF", "k": "s", "t": 0.5, "n": 1}, {"r": "Naloxone", "c": "26g vF", "k": "s", "t": 1.3, "n": 1}, {"r": "Naloxone", "c": "26g vF", "k": "s", "t": 1.7, "n": 1}, {"r": "Naloxone", "c": "26g vF", "k": "s", "t": 2.3, "n": 1}, {"r": "Naloxone", "c": "26g vF", "k": "s", "t": 2.7, "n": 1},
      {"r": "Naloxone", "c": "Pinch", "k": "s", "t": -0.3, "n": 3}, {"r": "Naloxone", "c": "Pinch", "k": "s", "t": 0, "n": 3}, {"r": "Naloxone", "c": "Pinch", "k": "s", "t": 0.3, "n": 3}, {"r": "Naloxone", "c": "Pinch", "k": "s", "t": 0.6, "n": 3}, {"r": "Naloxone", "c": "Pinch", "k": "s", "t": 0.9, "n": 3}, {"r": "Naloxone", "c": "Pinch", "k": "s", "t": 1.2, "n": 3}, {"r": "Naloxone", "c": "Pinch", "k": "s", "t": 1.5, "n": 3}, {"r": "Naloxone", "c": "Pinch", "k": "s", "t": 1.8, "n": 3}, {"r": "Naloxone", "c": "Pinch", "k": "s", "t": 2.1, "n": 3},
      {"r": "Baseline", "c": "Brush", "k": "stim", "t0": -0.5, "t1": 4}, {"r": "Baseline", "c": "2g vF", "k": "stim", "t0": -0.5, "t1": 4}, {"r": "Baseline", "c": "8g vF", "k": "stim", "t0": -0.5, "t1": 4}, {"r": "Baseline", "c": "26g vF", "k": "stim", "t0": -0.5, "t1": 4}, {"r": "Baseline", "c": "Pinch", "k": "stim", "t0": -0.5, "t1": 4}
    ]
  },
  "resolve": {"scale": {"color": "independent", "stroke": "independent", "shape": "independent", "strokeDash": "independent", "opacity": "independent", "xOffset": "independent"}},
  "spacing": 0,
  "vconcat": [
    {
      "spacing": 15,
      "resolve": {"scale": {"color": "independent", "stroke": "independent", "opacity": "independent", "xOffset": "independent"}},
      "hconcat": [
        {
          "title": {"text": "A.", "anchor": "start", "frame": "bounds", "dy": 7.5},
          "vconcat": [{
            "width": 36, "height": 64,
            "title": {"text": ["4Hz stim.", "Aβ-mediated spikes"]},
            "layer": [
              {
                "data": {"name": "A"},
                "transform": [{"window": [{"op": "row_number", "as": "i"}], "groupby": ["g"]}],
                "layer": [
                  {"mark": {"type": "bar", "fillOpacity": 0.22, "strokeWidth": 0.8},
                   "encoding": {
                     "x": {"field": "g", "type": "nominal", "title": null, "scale": {"domain": ["Baseline", "Tapentadol", "Naloxone"], "paddingInner": 0.35, "paddingOuter": 0.2}, "axis": {"labelAngle": -45, "labelFontSize": 5, "tickSize": 1.5}},
                     "y": {"aggregate": "mean", "field": "v", "type": "quantitative", "title": "Spike counts", "scale": {"domain": [0, 6], "nice": false}, "axis": {"values": [0, 2, 4, 6], "titlePadding": 5}},
                     "color": {"field": "g", "type": "nominal", "scale": {"domain": ["Baseline", "Tapentadol", "Naloxone"], "range": ["#2f86dc", "#1ba3b8", "#3cbb4b"]}, "legend": null},
                     "stroke": {"field": "g", "type": "nominal", "scale": {"domain": ["Baseline", "Tapentadol", "Naloxone"], "range": ["#2f86dc", "#1ba3b8", "#3cbb4b"]}, "legend": null}}},
                  {"mark": {"type": "errorbar", "extent": "stderr", "ticks": {"size": 3.5}, "rule": {"strokeWidth": 0.7}},
                   "encoding": {"x": {"field": "g", "type": "nominal", "title": null}, "y": {"field": "v", "type": "quantitative", "title": "Spike counts"}, "color": {"field": "g", "type": "nominal", "legend": null}}},
                  {"mark": {"type": "circle", "size": 2.5, "opacity": 0.9},
                   "encoding": {"x": {"field": "g", "type": "nominal", "title": null}, "xOffset": {"field": "i", "type": "nominal", "scale": {"paddingOuter": 3}}, "y": {"field": "v", "type": "quantitative", "title": "Spike counts"}, "color": {"field": "g", "type": "nominal", "legend": null}}}
                ]
              },
              {
                "data": {"values": [{"g1": "Baseline", "g2": "Tapentadol", "lab": "****", "lvl": 1}, {"g1": "Tapentadol", "g2": "Naloxone", "lab": "**", "lvl": 2}, {"g1": "Baseline", "g2": "Naloxone", "lab": "*", "lvl": 3}]},
                "encoding": {"y": {"field": "lvl", "type": "quantitative", "scale": {"domain": [1, 3], "range": [2, -16], "nice": false, "zero": false}, "axis": null}},
                "layer": [
                  {"mark": {"type": "rule", "strokeWidth": 0.6, "color": "#222"}, "encoding": {"x": {"field": "g1", "type": "nominal", "title": null}, "x2": {"field": "g2"}}},
                  {"mark": {"type": "rule", "strokeWidth": 0.6, "color": "#222", "y2Offset": 3}, "encoding": {"x": {"field": "g1", "type": "nominal", "title": null}, "y2": {"field": "lvl"}}},
                  {"mark": {"type": "rule", "strokeWidth": 0.6, "color": "#222", "y2Offset": 3}, "encoding": {"x": {"field": "g2", "type": "nominal", "title": null}, "y2": {"field": "lvl"}}},
                  {"transform": [{"filter": "datum.g1 == 'Baseline' && datum.g2 == 'Naloxone'"}], "mark": {"type": "text", "fontSize": 6.5, "baseline": "bottom", "dy": 2, "color": "#222"}, "encoding": {"x": {"datum": "Tapentadol"}, "text": {"field": "lab"}}},
                  {"transform": [{"filter": "!(datum.g1 == 'Baseline' && datum.g2 == 'Naloxone')"}], "mark": {"type": "text", "fontSize": 6.5, "baseline": "bottom", "dy": 2, "dx": 5.8, "color": "#222"}, "encoding": {"x": {"field": "g1", "type": "nominal", "title": null}, "text": {"field": "lab"}}}
                ]
              }
            ],
            "resolve": {"scale": {"y": "independent"}}
          }]
        },
        {
          "title": {"text": "B.", "anchor": "start", "frame": "bounds", "dy": 7.5},
          "vconcat": [{
            "title": {"text": "n = 22 units", "anchor": "end", "frame": "bounds", "dy": 7.5},
            "vconcat": [{
              "data": {"name": "Bt"},
              "title": {"text": "Time/s", "orient": "bottom", "anchor": "middle", "offset": 1},
              "facet": {
                "row": {"field": "r", "type": "nominal", "sort": ["Baseline", "Tapentadol", "Naloxone"], "title": "Spikes per bin", "header": {"labelAngle": -90, "labelOrient": "left"}},
                "column": {"field": "c", "type": "nominal", "sort": ["0.2mA", "0.4mA", "1.6mA", "3.2mA"], "title": "Inn-nox electrical stimulation"}
              },
              "spacing": {"row": 3, "column": 2},
              "resolve": {"axis": {"x": "independent", "y": "independent"}},
              "spec": {
                "width": 28, "height": 20,
                "layer": [
                  {"transform": [{"filter": "datum.k == 'p'"}], "mark": {"type": "errorband", "opacity": 0.3},
                   "encoding": {
                     "x": {"field": "t", "type": "quantitative", "title": null, "scale": {"domain": [-0.1, 0.3], "nice": false}, "axis": {"values": [-0.1, 0, 0.3], "format": "~g"}},
                     "y": {"field": "m", "type": "quantitative", "title": null, "scale": {"domain": [0, 2], "nice": false}, "axis": {"values": [0, 2]}},
                     "yError": {"field": "s"},
                     "color": {"field": "r", "type": "nominal", "scale": {"domain": ["Baseline", "Tapentadol", "Naloxone"], "range": ["#2f86dc", "#1ba3b8", "#3cbb4b"]}, "legend": null}}},
                  {"transform": [{"filter": "datum.k == 'p'"}], "mark": {"type": "line", "strokeWidth": 0.7},
                   "encoding": {"x": {"field": "t", "type": "quantitative", "title": null}, "y": {"field": "m", "type": "quantitative", "title": null}, "color": {"field": "r", "type": "nominal", "legend": null}}},
                  {"transform": [{"filter": "datum.k == 's'"}], "mark": {"type": "rule", "strokeWidth": 0.7},
                   "encoding": {"x": {"field": "t", "type": "quantitative", "title": null}, "y": {"datum": 2.2}, "y2": {"datum": 2.6}, "color": {"field": "r", "type": "nominal", "legend": null}, "opacity": {"field": "n", "type": "quantitative", "scale": {"domain": [0, 3], "range": [0.1, 1]}, "legend": null}}}
                ]
              }
            }]
          }]
        }
      ]
    },
    {
      "spacing": 8,
      "resolve": {"scale": {"color": "independent", "stroke": "independent", "shape": "independent", "strokeDash": "independent", "xOffset": "independent"}},
      "hconcat": [
        {
          "title": {"text": "C.", "anchor": "start", "frame": "bounds", "offset": 6},
          "vconcat": [{
            "width": 62, "height": 62,
            "title": {"text": ["Inn-Nox stim", "Aβ-fibre"]},
            "data": {"name": "C"},
            "encoding": {
              "x": {"field": "x", "type": "ordinal", "title": "Current/mA", "scale": {"domain": ["0.05", "0.10", "0.20", "0.40", "0.80", "1.60", "3.20"], "padding": 0.4}, "axis": {"labelAngle": -45}},
              "color": {"field": "g", "type": "nominal", "title": null, "scale": {"domain": ["Baseline WDR", "Tap. 10mg/kg", "Nal. 0.25mg/kg"], "range": ["#2f86dc", "#1ba3b8", "#3cbb4b"]}, "legend": {"orient": "top-left", "offset": 1}}
            },
            "layer": [
              {"mark": {"type": "errorbar", "ticks": {"size": 3}, "rule": {"strokeWidth": 0.6}},
               "encoding": {"y": {"field": "m", "type": "quantitative", "title": "Spike counts", "scale": {"domain": [0, 4], "nice": false}, "axis": {"values": [0, 1, 2, 3, 4], "titlePadding": 4}}, "yError": {"field": "s"}}},
              {"mark": {"type": "line", "strokeWidth": 0.9},
               "encoding": {"y": {"field": "m", "type": "quantitative", "title": "Spike counts"}, "strokeDash": {"field": "g", "type": "nominal", "scale": {"domain": ["Baseline WDR", "Tap. 10mg/kg", "Nal. 0.25mg/kg"], "range": [[1, 0], [3, 1.5], [1, 1]]}, "legend": null}}},
              {"mark": {"type": "point", "filled": true, "size": 9, "opacity": 1},
               "encoding": {"y": {"field": "m", "type": "quantitative", "title": "Spike counts"}, "shape": {"field": "g", "type": "nominal", "title": null, "scale": {"domain": ["Baseline WDR", "Tap. 10mg/kg", "Nal. 0.25mg/kg"], "range": ["circle", "square", "triangle-up"]}, "legend": {"orient": "top-left", "offset": 1}}}}
            ]
          }]
        },
        {
          "title": {"text": "Supramaximal 3.2mA 2ms pulse"},
          "spacing": 4,
          "hconcat": [
            {
              "title": {"text": "D.", "anchor": "start", "frame": "bounds", "dy": 7.5},
              "vconcat": [{
                "width": 41, "height": 64,
                "title": {"text": "Aβ-fibre"},
                "layer": [
                  {
                    "data": {"name": "D"},
                    "transform": [{"window": [{"op": "row_number", "as": "i"}], "groupby": ["g"]}],
                    "layer": [
                      {"mark": {"type": "bar", "fillOpacity": 0.22, "strokeWidth": 0.8},
                       "encoding": {
                         "x": {"field": "g", "type": "nominal", "title": null, "scale": {"domain": ["Baseline", "Tapentadol", "Naloxone"], "paddingInner": 0.35, "paddingOuter": 0.2}, "axis": {"labelAngle": -45, "labelFontSize": 5, "tickSize": 1.5}},
                         "y": {"aggregate": "mean", "field": "v", "type": "quantitative", "title": "Spike counts", "scale": {"domain": [0, 8], "nice": false}, "axis": {"values": [0, 2, 4, 6, 8], "titlePadding": 3}},
                         "color": {"field": "g", "type": "nominal", "scale": {"domain": ["Baseline", "Tapentadol", "Naloxone"], "range": ["#2f86dc", "#1ba3b8", "#3cbb4b"]}, "legend": null},
                         "stroke": {"field": "g", "type": "nominal", "scale": {"domain": ["Baseline", "Tapentadol", "Naloxone"], "range": ["#2f86dc", "#1ba3b8", "#3cbb4b"]}, "legend": null}}},
                      {"mark": {"type": "errorbar", "extent": "stderr", "ticks": {"size": 3.5}, "rule": {"strokeWidth": 0.7}},
                       "encoding": {"x": {"field": "g", "type": "nominal", "title": null}, "y": {"field": "v", "type": "quantitative", "title": "Spike counts"}, "color": {"field": "g", "type": "nominal", "legend": null}}},
                      {"mark": {"type": "circle", "size": 2.5, "opacity": 0.9},
                       "encoding": {"x": {"field": "g", "type": "nominal", "title": null}, "xOffset": {"field": "i", "type": "nominal", "scale": {"paddingOuter": 3}}, "y": {"field": "v", "type": "quantitative", "title": "Spike counts"}, "color": {"field": "g", "type": "nominal", "legend": null}}}
                    ]
                  },
                  {
                    "data": {"values": [{"g1": "Baseline", "g2": "Tapentadol", "lab": "***", "lvl": 1}, {"g1": "Tapentadol", "g2": "Naloxone", "lab": "*", "lvl": 1}, {"g1": "Baseline", "g2": "Naloxone", "lab": "*", "lvl": 2}]},
                    "encoding": {"y": {"field": "lvl", "type": "quantitative", "scale": {"domain": [1, 2], "range": [5, -7], "nice": false, "zero": false}, "axis": null}},
                    "layer": [
                      {"mark": {"type": "rule", "strokeWidth": 0.6, "color": "#222"}, "encoding": {"x": {"field": "g1", "type": "nominal", "title": null}, "x2": {"field": "g2"}}},
                      {"mark": {"type": "rule", "strokeWidth": 0.6, "color": "#222", "y2Offset": 3}, "encoding": {"x": {"field": "g1", "type": "nominal", "title": null}, "y2": {"field": "lvl"}}},
                      {"mark": {"type": "rule", "strokeWidth": 0.6, "color": "#222", "y2Offset": 3}, "encoding": {"x": {"field": "g2", "type": "nominal", "title": null}, "y2": {"field": "lvl"}}},
                      {"transform": [{"filter": "datum.g1 == 'Baseline' && datum.g2 == 'Naloxone'"}], "mark": {"type": "text", "fontSize": 6.5, "baseline": "bottom", "dy": 2, "color": "#222"}, "encoding": {"x": {"datum": "Tapentadol"}, "text": {"field": "lab"}}},
                      {"transform": [{"filter": "!(datum.g1 == 'Baseline' && datum.g2 == 'Naloxone')"}], "mark": {"type": "text", "fontSize": 6.5, "baseline": "bottom", "dy": 2, "dx": 6.6, "color": "#222"}, "encoding": {"x": {"field": "g1", "type": "nominal", "title": null}, "text": {"field": "lab"}}}
                    ]
                  }
                ],
                "resolve": {"scale": {"y": "independent"}}
              }]
            },
            {
              "title": {"text": "E.", "anchor": "start", "frame": "bounds", "dy": 7.5},
              "vconcat": [{
                "width": 37, "height": 64,
                "title": {"text": "Aδ-fibre"},
                "layer": [
                  {
                    "data": {"name": "E"},
                    "transform": [{"window": [{"op": "row_number", "as": "i"}], "groupby": ["g"]}],
                    "layer": [
                      {"mark": {"type": "bar", "fillOpacity": 0.22, "strokeWidth": 0.8},
                       "encoding": {
                         "x": {"field": "g", "type": "nominal", "title": null, "scale": {"domain": ["Baseline", "Tapentadol", "Naloxone"], "paddingInner": 0.35, "paddingOuter": 0.2}, "axis": {"labelAngle": -45, "labelFontSize": 5, "tickSize": 1.5}},
                         "y": {"aggregate": "mean", "field": "v", "type": "quantitative", "title": null, "scale": {"domain": [0, 6], "nice": false}, "axis": {"values": [0, 2, 4, 6]}},
                         "color": {"field": "g", "type": "nominal", "scale": {"domain": ["Baseline", "Tapentadol", "Naloxone"], "range": ["#2f86dc", "#1ba3b8", "#3cbb4b"]}, "legend": null},
                         "stroke": {"field": "g", "type": "nominal", "scale": {"domain": ["Baseline", "Tapentadol", "Naloxone"], "range": ["#2f86dc", "#1ba3b8", "#3cbb4b"]}, "legend": null}}},
                      {"mark": {"type": "errorbar", "extent": "stderr", "ticks": {"size": 3.5}, "rule": {"strokeWidth": 0.7}},
                       "encoding": {"x": {"field": "g", "type": "nominal", "title": null}, "y": {"field": "v", "type": "quantitative", "title": null}, "color": {"field": "g", "type": "nominal", "legend": null}}},
                      {"mark": {"type": "circle", "size": 2.5, "opacity": 0.9},
                       "encoding": {"x": {"field": "g", "type": "nominal", "title": null}, "xOffset": {"field": "i", "type": "nominal", "scale": {"paddingOuter": 3}}, "y": {"field": "v", "type": "quantitative", "title": null}, "color": {"field": "g", "type": "nominal", "legend": null}}}
                    ]
                  },
                  {
                    "data": {"values": [{"g1": "Baseline", "g2": "Tapentadol", "lab": "**", "lvl": 1}, {"g1": "Tapentadol", "g2": "Naloxone", "lab": "ns", "lvl": 1}, {"g1": "Baseline", "g2": "Naloxone", "lab": "*", "lvl": 2}]},
                    "encoding": {"y": {"field": "lvl", "type": "quantitative", "scale": {"domain": [1, 2], "range": [0, -8], "nice": false, "zero": false}, "axis": null}},
                    "layer": [
                      {"mark": {"type": "rule", "strokeWidth": 0.6, "color": "#222"}, "encoding": {"x": {"field": "g1", "type": "nominal", "title": null}, "x2": {"field": "g2"}}},
                      {"mark": {"type": "rule", "strokeWidth": 0.6, "color": "#222", "y2Offset": 3}, "encoding": {"x": {"field": "g1", "type": "nominal", "title": null}, "y2": {"field": "lvl"}}},
                      {"mark": {"type": "rule", "strokeWidth": 0.6, "color": "#222", "y2Offset": 3}, "encoding": {"x": {"field": "g2", "type": "nominal", "title": null}, "y2": {"field": "lvl"}}},
                      {"transform": [{"filter": "datum.g1 == 'Baseline' && datum.g2 == 'Naloxone'"}], "mark": {"type": "text", "fontSize": 6.5, "baseline": "bottom", "dy": 2, "color": "#222"}, "encoding": {"x": {"datum": "Tapentadol"}, "text": {"field": "lab"}}},
                      {"transform": [{"filter": "!(datum.g1 == 'Baseline' && datum.g2 == 'Naloxone')"}], "mark": {"type": "text", "fontSize": 6.5, "baseline": "bottom", "dy": 2, "dx": 6, "color": "#222"}, "encoding": {"x": {"field": "g1", "type": "nominal", "title": null}, "text": {"field": "lab"}}}
                    ]
                  }
                ],
                "resolve": {"scale": {"y": "independent"}}
              }]
            },
            {
              "title": {"text": "F.", "anchor": "start", "frame": "bounds", "dy": 7.5},
              "vconcat": [{
                "width": 37, "height": 64,
                "title": {"text": "C-fibre"},
                "layer": [
                  {
                    "data": {"name": "F"},
                    "transform": [{"window": [{"op": "row_number", "as": "i"}], "groupby": ["g"]}],
                    "layer": [
                      {"mark": {"type": "bar", "fillOpacity": 0.22, "strokeWidth": 0.8},
                       "encoding": {
                         "x": {"field": "g", "type": "nominal", "title": null, "scale": {"domain": ["Baseline", "Tapentadol", "Naloxone"], "paddingInner": 0.35, "paddingOuter": 0.2}, "axis": {"labelAngle": -45, "labelFontSize": 5, "tickSize": 1.5}},
                         "y": {"aggregate": "mean", "field": "v", "type": "quantitative", "title": null, "scale": {"domain": [0, 30], "nice": false}, "axis": {"values": [0, 10, 20, 30]}},
                         "color": {"field": "g", "type": "nominal", "scale": {"domain": ["Baseline", "Tapentadol", "Naloxone"], "range": ["#2f86dc", "#1ba3b8", "#3cbb4b"]}, "legend": null},
                         "stroke": {"field": "g", "type": "nominal", "scale": {"domain": ["Baseline", "Tapentadol", "Naloxone"], "range": ["#2f86dc", "#1ba3b8", "#3cbb4b"]}, "legend": null}}},
                      {"mark": {"type": "errorbar", "extent": "stderr", "ticks": {"size": 3.5}, "rule": {"strokeWidth": 0.7}},
                       "encoding": {"x": {"field": "g", "type": "nominal", "title": null}, "y": {"field": "v", "type": "quantitative", "title": null}, "color": {"field": "g", "type": "nominal", "legend": null}}},
                      {"mark": {"type": "circle", "size": 2.5, "opacity": 0.9},
                       "encoding": {"x": {"field": "g", "type": "nominal", "title": null}, "xOffset": {"field": "i", "type": "nominal", "scale": {"paddingOuter": 3}}, "y": {"field": "v", "type": "quantitative", "title": null}, "color": {"field": "g", "type": "nominal", "legend": null}}}
                    ]
                  },
                  {
                    "data": {"values": [{"g1": "Baseline", "g2": "Tapentadol", "lab": "**", "lvl": 1}, {"g1": "Tapentadol", "g2": "Naloxone", "lab": "**", "lvl": 1}, {"g1": "Baseline", "g2": "Naloxone", "lab": "ns", "lvl": 2}]},
                    "encoding": {"y": {"field": "lvl", "type": "quantitative", "scale": {"domain": [1, 2], "range": [0, -8], "nice": false, "zero": false}, "axis": null}},
                    "layer": [
                      {"mark": {"type": "rule", "strokeWidth": 0.6, "color": "#222"}, "encoding": {"x": {"field": "g1", "type": "nominal", "title": null}, "x2": {"field": "g2"}}},
                      {"mark": {"type": "rule", "strokeWidth": 0.6, "color": "#222", "y2Offset": 3}, "encoding": {"x": {"field": "g1", "type": "nominal", "title": null}, "y2": {"field": "lvl"}}},
                      {"mark": {"type": "rule", "strokeWidth": 0.6, "color": "#222", "y2Offset": 3}, "encoding": {"x": {"field": "g2", "type": "nominal", "title": null}, "y2": {"field": "lvl"}}},
                      {"transform": [{"filter": "datum.g1 == 'Baseline' && datum.g2 == 'Naloxone'"}], "mark": {"type": "text", "fontSize": 6.5, "baseline": "bottom", "dy": 2, "color": "#222"}, "encoding": {"x": {"datum": "Tapentadol"}, "text": {"field": "lab"}}},
                      {"transform": [{"filter": "!(datum.g1 == 'Baseline' && datum.g2 == 'Naloxone')"}], "mark": {"type": "text", "fontSize": 6.5, "baseline": "bottom", "dy": 2, "dx": 6, "color": "#222"}, "encoding": {"x": {"field": "g1", "type": "nominal", "title": null}, "text": {"field": "lab"}}}
                    ]
                  }
                ],
                "resolve": {"scale": {"y": "independent"}}
              }]
            }
          ]
        }
      ]
    },
    {
      "spacing": 3,
      "resolve": {"scale": {"color": "independent", "shape": "independent", "strokeDash": "independent", "opacity": "independent"}},
      "hconcat": [
        {
          "title": {"text": "G.", "anchor": "start", "frame": "bounds", "offset": 12},
          "vconcat": [{
            "width": 56, "height": 58,
            "title": {"text": "Mech evoked spikes"},
            "data": {"name": "G"},
            "encoding": {
              "x": {"field": "x", "type": "ordinal", "title": "Mechanical stimulation", "scale": {"domain": ["Brush", "2g vF", "8g vF", "26g vF", "Pinch"], "padding": 0.4}, "axis": {"labelAngle": -45}},
              "color": {"field": "g", "type": "nominal", "title": null, "scale": {"domain": ["Baseline WDR", "Tap. 10mg/kg", "Nal. 0.25mg/kg"], "range": ["#2f86dc", "#1ba3b8", "#3cbb4b"]}, "legend": {"orient": "top-left", "offset": 1}}
            },
            "layer": [
              {"mark": {"type": "errorbar", "ticks": {"size": 3}, "rule": {"strokeWidth": 0.6}},
               "encoding": {"y": {"field": "m", "type": "quantitative", "title": "Spike counts", "scale": {"domain": [0, 200], "nice": false}, "axis": {"values": [0, 50, 100, 150, 200], "titlePadding": 3}}, "yError": {"field": "s"}}},
              {"mark": {"type": "line", "strokeWidth": 0.9},
               "encoding": {"y": {"field": "m", "type": "quantitative", "title": "Spike counts"}, "strokeDash": {"field": "g", "type": "nominal", "scale": {"domain": ["Baseline WDR", "Tap. 10mg/kg", "Nal. 0.25mg/kg"], "range": [[1, 0], [3, 1.5], [1, 1]]}, "legend": null}}},
              {"mark": {"type": "point", "filled": true, "size": 9, "opacity": 1},
               "encoding": {"y": {"field": "m", "type": "quantitative", "title": "Spike counts"}, "shape": {"field": "g", "type": "nominal", "title": null, "scale": {"domain": ["Baseline WDR", "Tap. 10mg/kg", "Nal. 0.25mg/kg"], "range": ["circle", "square", "triangle-up"]}, "legend": {"orient": "top-left", "offset": 1}}}}
            ]
          }]
        },
        {
          "title": {"text": "H.", "anchor": "start", "frame": "bounds", "dy": 7.5},
          "vconcat": [{
            "title": {"text": "Mechanical stimulation", "anchor": "middle", "dx": 10},
            "vconcat": [{
              "data": {"name": "Ht"},
              "title": {"text": "Time/s", "orient": "bottom", "anchor": "middle", "offset": 1},
              "facet": {
                "row": {"field": "r", "type": "nominal", "sort": ["Baseline", "Tapentadol", "Naloxone"], "title": "Spikes per bin", "header": {"labelAngle": -90, "labelOrient": "left"}},
                "column": {"field": "c", "type": "nominal", "sort": ["Brush", "2g vF", "8g vF", "26g vF", "Pinch"], "title": null}
              },
              "spacing": {"row": 0, "column": 0},
              "resolve": {"axis": {"x": "independent", "y": "independent"}},
              "spec": {
                "width": 23, "height": 20,
                "layer": [
                  {"transform": [{"filter": "datum.k == 'p'"}], "mark": {"type": "errorband", "opacity": 0.3},
                   "encoding": {
                     "x": {"field": "t", "type": "quantitative", "title": null, "scale": {"domain": [-2, 5], "nice": false}, "axis": {"values": [-2, 0, 5]}},
                     "y": {"field": "m", "type": "quantitative", "title": null, "scale": {"domain": [0, 20], "nice": false}, "axis": {"values": [0, 20]}},
                     "yError": {"field": "s"},
                     "color": {"field": "r", "type": "nominal", "scale": {"domain": ["Baseline", "Tapentadol", "Naloxone"], "range": ["#2f86dc", "#1ba3b8", "#3cbb4b"]}, "legend": null}}},
                  {"transform": [{"filter": "datum.k == 'p'"}], "mark": {"type": "line", "strokeWidth": 0.7},
                   "encoding": {"x": {"field": "t", "type": "quantitative", "title": null}, "y": {"field": "m", "type": "quantitative", "title": null}, "color": {"field": "r", "type": "nominal", "legend": null}}},
                  {"transform": [{"filter": "datum.k == 's'"}], "mark": {"type": "rule", "strokeWidth": 0.7},
                   "encoding": {"x": {"field": "t", "type": "quantitative", "title": null}, "y": {"datum": 21.5}, "y2": {"datum": 25.5}, "color": {"field": "r", "type": "nominal", "legend": null}, "opacity": {"field": "n", "type": "quantitative", "scale": {"domain": [0, 3], "range": [0.1, 1]}, "legend": null}}},
                  {"transform": [{"filter": "datum.k == 'stim'"}], "mark": {"type": "rule", "strokeWidth": 0.6, "color": "#333"},
                   "encoding": {"x": {"field": "t0", "type": "quantitative", "title": null}, "x2": {"datum": -2}, "y": {"datum": 27}}},
                  {"transform": [{"filter": "datum.k == 'stim'"}], "mark": {"type": "rule", "strokeWidth": 0.6, "color": "#333"},
                   "encoding": {"x": {"field": "t0", "type": "quantitative", "title": null}, "y": {"datum": 27}, "y2": {"datum": 29.5}}},
                  {"transform": [{"filter": "datum.k == 'stim'"}], "mark": {"type": "rule", "strokeWidth": 0.6, "color": "#333"},
                   "encoding": {"x": {"field": "t0", "type": "quantitative", "title": null}, "x2": {"field": "t1"}, "y": {"datum": 29.5}}},
                  {"transform": [{"filter": "datum.k == 'stim'"}], "mark": {"type": "rule", "strokeWidth": 0.6, "color": "#333"},
                   "encoding": {"x": {"field": "t1", "type": "quantitative", "title": null}, "y": {"datum": 27}, "y2": {"datum": 29.5}}},
                  {"transform": [{"filter": "datum.k == 'stim'"}], "mark": {"type": "rule", "strokeWidth": 0.6, "color": "#333"},
                   "encoding": {"x": {"field": "t1", "type": "quantitative", "title": null}, "x2": {"datum": 5}, "y": {"datum": 27}}}
                ]
              }
            }]
          }]
        }
      ]
    }
  ]
}
